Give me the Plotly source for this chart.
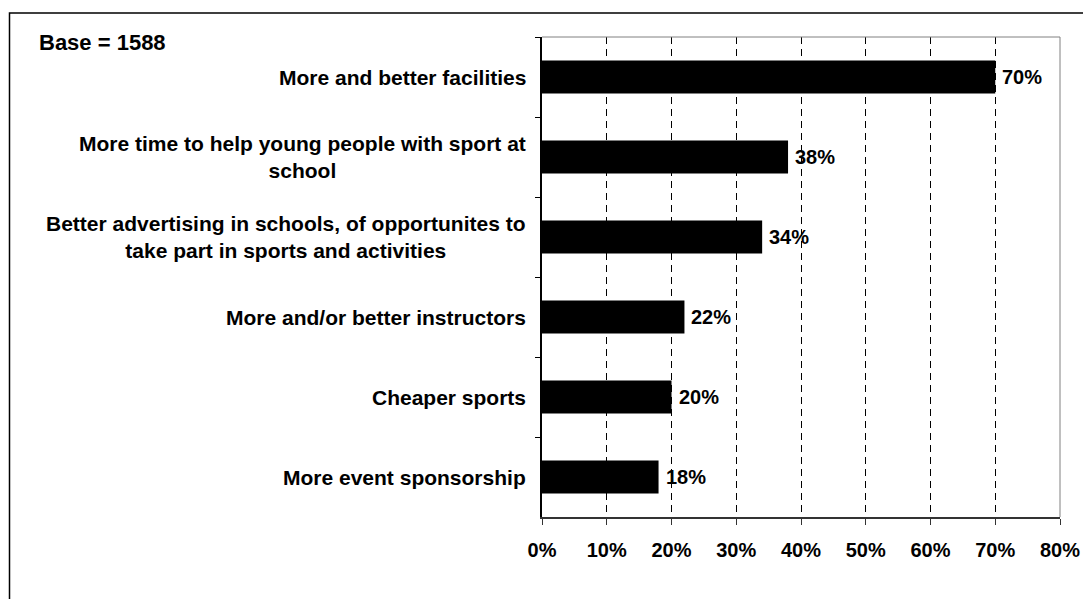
import plotly.graph_objects as go

# Survey result: what would encourage young people to take part in sport
categories = [
    "More and better facilities",
    "More time to help young people with sport at<br>school",
    "Better advertising in schools, of opportunites to<br>take part in sports and activities",
    "More and/or better instructors",
    "Cheaper sports",
    "More event sponsorship",
]
percentages = [70, 38, 34, 22, 20, 18]
base_label = "Base = 1588"
x_ticks = [0, 10, 20, 30, 40, 50, 60, 70, 80]

FONT = "Liberation Sans, Arial, sans-serif"
W, H = 1083, 599
ML, MR, MT, MB = 542, 23, 37, 82
PW, PH = W - ML - MR, H - MT - MB


def px_to_paper_x(px):
    return (px - ML) / PW


def px_to_paper_y(py):
    return (H - MB - py) / PH


fig = go.Figure(
    go.Bar(
        x=percentages,
        y=categories,
        orientation="h",
        width=0.41,
        marker=dict(color="#000000", line=dict(width=0)),
        hoverinfo="skip",
    )
)

annotations = []
# Category labels, centred block, right of the block near the axis
for cat in categories:
    annotations.append(dict(
        x=0, xref="paper", xanchor="right", xshift=-14,
        y=cat, yref="y", yanchor="middle",
        text=cat, showarrow=False, align="center",
        font=dict(family=FONT, size=21, color="#000000", weight="bold"),
    ))
# Value labels at the end of each bar
for cat, v in zip(categories, percentages):
    annotations.append(dict(
        x=v, xref="x", xanchor="left", xshift=5,
        y=cat, yref="y", yanchor="middle",
        text=f"{v}%", showarrow=False,
        font=dict(family=FONT, size=20, color="#000000", weight="bold"),
    ))
annotations.append(dict(
    x=px_to_paper_x(37), xref="paper", xanchor="left",
    y=px_to_paper_y(43), yref="paper", yanchor="middle",
    text=base_label, showarrow=False,
    font=dict(family=FONT, size=22, color="#000000", weight="bold"),
))

shapes = [
    # outer frame around the chart
    dict(type="rect", xref="paper", yref="paper",
         x0=px_to_paper_x(9.5), x1=px_to_paper_x(W + 20),
         y0=px_to_paper_y(H + 20), y1=px_to_paper_y(13),
         line=dict(color="#000000", width=1.5), fillcolor="rgba(0,0,0,0)",
         layer="above"),
    # grey top and right edges of the plot area
    dict(type="line", xref="paper", yref="paper", x0=0, x1=1, y0=1, y1=1,
         line=dict(color="#808080", width=1), layer="above"),
    dict(type="line", xref="paper", yref="paper", x0=1, x1=1, y0=0, y1=1,
         line=dict(color="#808080", width=1), layer="above"),
]

fig.update_layout(
    width=W, height=H,
    margin=dict(l=ML, r=MR, t=MT, b=MB, pad=0, autoexpand=False),
    paper_bgcolor="#ffffff", plot_bgcolor="#ffffff",
    font=dict(family=FONT, size=20, color="#000000", weight="bold"),
    showlegend=False,
    annotations=annotations,
    shapes=shapes,
    xaxis=dict(
        range=[0, 80], tickvals=x_ticks, ticktext=[f"{t}%" for t in x_ticks],
        automargin=False,
        showgrid=True, gridcolor="#000000", gridwidth=1, griddash="7px,5px",
        zeroline=False, showline=True, linecolor="#333333", linewidth=1.5,
        ticks="outside", ticklen=6, tickcolor="#333333", tickwidth=1,
        ticklabelstandoff=8,
        tickfont=dict(family=FONT, size=20, color="#000000", weight="bold"),
        fixedrange=True,
    ),
    yaxis=dict(
        autorange="reversed", showticklabels=False, tickson="boundaries",
        automargin=False,
        ticks="outside", ticklen=5, tickcolor="#000000", tickwidth=1,
        showline=True, linecolor="#000000", linewidth=1.5,
        showgrid=False, zeroline=False, fixedrange=True,
    ),
    bargap=0.59,
)

fig.write_html("out.html")
